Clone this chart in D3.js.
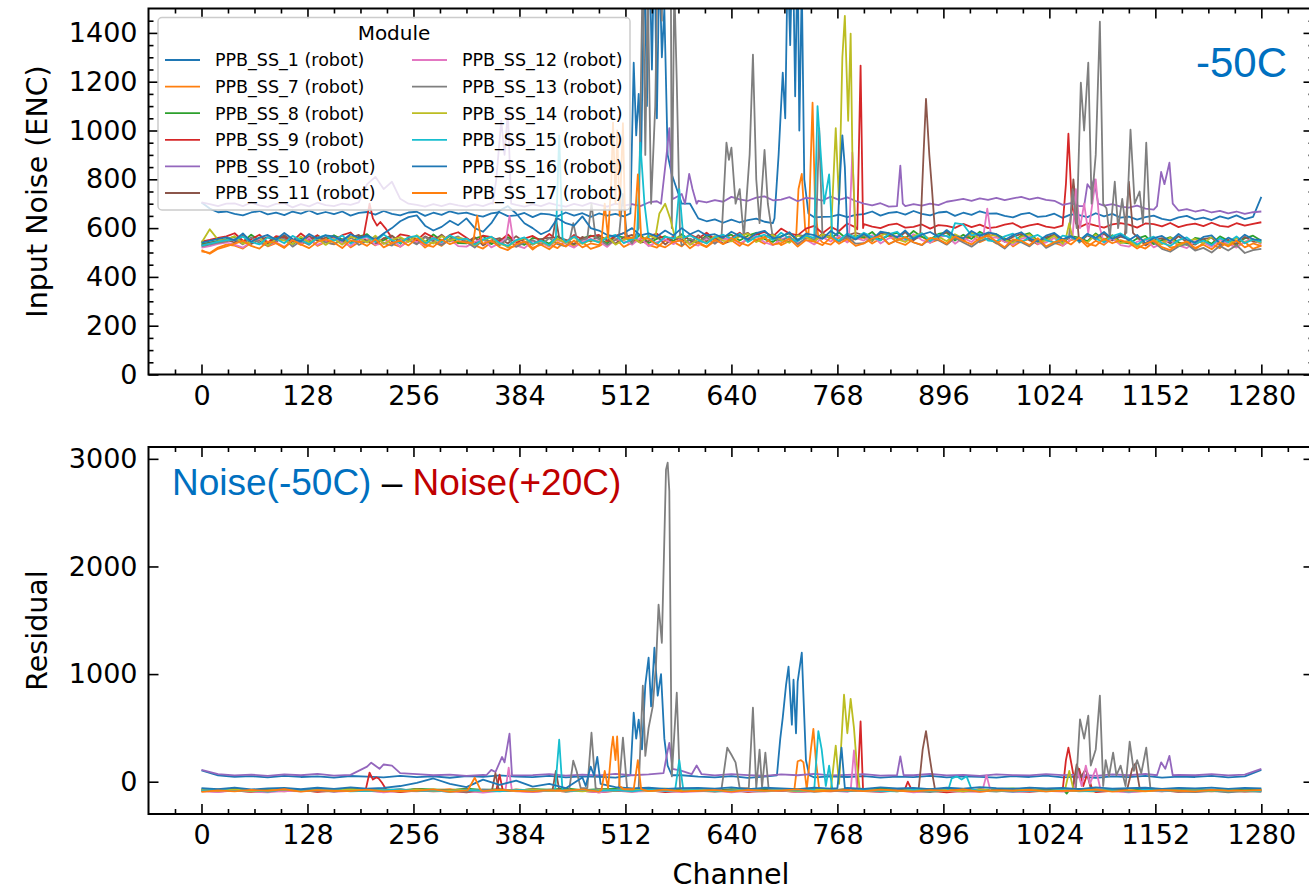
<!DOCTYPE html>
<html>
<head>
<meta charset="utf-8">
<script src="https://cdn.jsdelivr.net/npm/d3@7"></script>
<style>
  body { margin: 0; background: #fff; }
  svg { display: block; }
</style>
</head>
<body>
<svg id="chart" width="1309" height="890"></svg>
<script>
// ---- data -------------------------------------------------------------
// Noise is sampled every 10 channels, residuals every 20 channels;
// narrow features are listed separately as [channel, value] points.
const noiseChannels = d3.range(0, 1281, 10);
const residChannels = d3.range(0, 1281, 20);

const modules = ["PPB_SS_1 (robot)", "PPB_SS_7 (robot)", "PPB_SS_8 (robot)", "PPB_SS_9 (robot)",
  "PPB_SS_10 (robot)", "PPB_SS_11 (robot)", "PPB_SS_12 (robot)", "PPB_SS_13 (robot)",
  "PPB_SS_14 (robot)", "PPB_SS_15 (robot)", "PPB_SS_16 (robot)", "PPB_SS_17 (robot)"];
const palette = ["#1f77b4", "#ff7f0e", "#2ca02c", "#d62728", "#9467bd", "#8c564b",
  "#e377c2", "#7f7f7f", "#bcbd22", "#17becf", "#1f77b4", "#ff7f0e"];

const xTickValues = d3.range(0, 1281, 128);
const xMinorTickValues = d3.range(-32, 1313, 32).filter(v => v % 128 !== 0);
const noiseTickValues = d3.range(0, 1401, 200);
const noiseMinorTickValues = d3.range(50, 1451, 50).filter(v => v % 200 !== 0);
const residTickValues = [0, 1000, 2000, 3000];

// Input noise at -50C (ENC), one row per 160 channels
const noise_SS1 = [
  705, 680, 665, 668, 658, 652, 664, 670, 656, 663, 653, 668, 659, 672, 657, 666,
  657, 668, 651, 662, 666, 655, 670, 658, 652, 664, 667, 650, 663, 654, 669, 659,
  663, 653, 647, 660, 665, 649, 652, 662, 645, 659, 656, 648, 664, 651, 661, 646,
  660, 651, 658, 648, 655, 655, 655, 655, 655, 655, 655, 700, 640, 628, 636, 622,
  635, 623, 633, 639, 626, 620, 630, 640, 640, 640, 644, 646, 647, 655, 645, 654,
  657, 668, 651, 662, 666, 655, 670, 658, 652, 664, 667, 650, 663, 654, 669, 659,
  660, 650, 644, 657, 662, 646, 649, 659, 642, 656, 653, 645, 661, 648, 658, 643,
  647, 635, 645, 651, 638, 632, 644, 650, 636, 643, 633, 648, 639, 652, 637, 646,
  728];
const noise_SS7 = [
  505, 498, 520, 532, 528, 516, 540, 551, 525, 538, 519, 548, 531, 555, 527, 543,
  533, 555, 521, 542, 551, 529, 559, 535, 524, 547, 553, 520, 544, 527, 556, 537,
  547, 529, 516, 541, 551, 520, 526, 545, 512, 539, 533, 518, 550, 524, 543, 515,
  526, 546, 557, 523, 540, 552, 531, 520, 549, 543, 525, 555, 537, 522, 547, 558,
  550, 527, 559, 553, 536, 564, 530, 547, 558, 538, 566, 541, 532, 562, 543, 556,
  561, 537, 557, 569, 543, 531, 555, 566, 540, 553, 534, 563, 546, 570, 542, 558,
  537, 559, 525, 546, 555, 533, 563, 539, 528, 551, 557, 524, 548, 531, 560, 541,
  547, 529, 516, 541, 551, 520, 526, 545, 512, 539, 533, 518, 550, 524, 543, 515,
  528];
const noise_SS8 = [
  535, 540, 548, 555, 565, 543, 573, 549, 538, 561, 567, 534, 558, 541, 570, 551,
  571, 553, 540, 565, 575, 544, 550, 569, 536, 563, 557, 542, 574, 548, 567, 539,
  537, 557, 568, 534, 551, 563, 542, 531, 560, 554, 536, 566, 548, 533, 558, 569,
  559, 536, 568, 562, 545, 573, 539, 556, 567, 547, 575, 550, 541, 571, 552, 565,
  573, 549, 569, 581, 555, 543, 567, 578, 552, 565, 546, 575, 558, 582, 554, 570,
  562, 584, 550, 571, 580, 558, 588, 564, 553, 576, 582, 549, 573, 556, 585, 566,
  575, 557, 544, 569, 579, 548, 554, 573, 540, 567, 561, 546, 578, 552, 571, 543,
  537, 557, 568, 534, 551, 563, 542, 531, 560, 554, 536, 566, 548, 533, 558, 569,
  548];
const noise_SS9 = [
  545, 552, 560, 566, 579, 548, 554, 573, 540, 567, 561, 546, 578, 552, 571, 543,
  551, 571, 582, 548, 565, 577, 556, 545, 574, 568, 550, 580, 562, 547, 572, 583,
  560, 537, 569, 563, 546, 574, 540, 557, 568, 548, 576, 551, 542, 572, 553, 566,
  572, 548, 568, 580, 554, 542, 566, 577, 551, 564, 545, 574, 557, 581, 553, 569,
  559, 581, 550, 573, 584, 565, 598, 578, 570, 598, 609, 579, 605, 588, 619, 603,
  616, 606, 600, 613, 618, 602, 605, 615, 598, 612, 609, 601, 617, 604, 614, 600,
  604, 614, 620, 602, 611, 617, 606, 601, 616, 613, 603, 619, 610, 602, 615, 620,
  614, 602, 619, 616, 607, 621, 604, 613, 618, 608, 622, 609, 605, 620, 610, 617,
  624];
const noise_SS10 = [
  705, 698, 690, 700, 701, 690, 705, 693, 687, 699, 702, 685, 698, 689, 704, 694,
  690, 700, 695, 705, 780, 810, 760, 790, 720, 700, 695, 688, 698, 690, 700, 693,
  688, 697, 690, 702, 690, 690, 695, 688, 697, 690, 702, 694, 688, 699, 691, 703,
  695, 688, 700, 692, 698, 690, 705, 710, 700, 720, 740, 700, 712, 705, 715, 708,
  728, 718, 712, 725, 730, 714, 717, 727, 710, 724, 721, 713, 729, 716, 726, 711,
  700, 693, 702, 688, 695, 690, 698, 692, 700, 694, 708, 714, 720, 712, 722, 716,
  724, 715, 722, 728, 718, 725, 716, 712, 695, 702, 690, 700, 700, 692, 698, 688,
  684, 692, 680, 676, 680, 680, 672, 678, 668, 675, 664, 671, 660, 668, 658, 665,
  668];
const noise_SS11 = [
  530, 538, 546, 552, 541, 569, 535, 552, 563, 543, 571, 546, 537, 567, 548, 561,
  564, 540, 560, 572, 546, 534, 558, 569, 543, 556, 537, 566, 549, 573, 545, 561,
  541, 563, 529, 550, 559, 537, 567, 543, 532, 555, 561, 528, 552, 535, 564, 545,
  568, 550, 537, 562, 572, 541, 547, 566, 533, 560, 554, 539, 571, 545, 564, 536,
  549, 569, 580, 546, 563, 575, 554, 543, 572, 566, 548, 578, 560, 545, 570, 581,
  570, 547, 579, 573, 556, 584, 550, 567, 578, 558, 586, 561, 552, 582, 563, 576,
  568, 544, 564, 576, 550, 538, 562, 573, 547, 560, 541, 570, 553, 577, 549, 565,
  541, 563, 529, 550, 559, 537, 567, 543, 532, 555, 561, 528, 552, 535, 564, 545,
  542];
const noise_SS12 = [
  520, 526, 535, 541, 532, 520, 544, 555, 529, 542, 523, 552, 535, 559, 531, 547,
  558, 540, 527, 552, 562, 531, 537, 556, 523, 550, 544, 529, 561, 535, 554, 526,
  524, 544, 555, 521, 538, 550, 529, 518, 547, 541, 523, 553, 535, 520, 545, 556,
  546, 523, 555, 549, 532, 560, 526, 543, 554, 534, 562, 537, 528, 558, 539, 552,
  560, 536, 556, 568, 542, 530, 554, 565, 539, 552, 533, 562, 545, 569, 541, 557,
  549, 571, 537, 558, 567, 545, 575, 551, 540, 563, 569, 536, 560, 543, 572, 553,
  562, 544, 531, 556, 566, 535, 541, 560, 527, 554, 548, 533, 565, 539, 558, 530,
  524, 544, 555, 521, 538, 550, 529, 518, 547, 541, 523, 553, 535, 520, 545, 556,
  533];
const noise_SS13 = [
  525, 532, 540, 546, 555, 533, 563, 539, 528, 551, 557, 524, 548, 531, 560, 541,
  534, 554, 565, 531, 548, 560, 539, 528, 557, 551, 533, 563, 545, 530, 555, 566,
  543, 520, 552, 546, 529, 557, 523, 540, 551, 531, 559, 534, 525, 555, 536, 549,
  555, 531, 551, 563, 537, 525, 549, 560, 534, 547, 528, 557, 540, 564, 536, 552,
  568, 550, 537, 562, 572, 541, 547, 566, 533, 560, 554, 539, 571, 545, 564, 536,
  538, 558, 569, 535, 550, 562, 541, 530, 557, 550, 532, 560, 541, 524, 548, 558,
  539, 516, 548, 542, 525, 553, 519, 536, 547, 527, 555, 530, 521, 551, 532, 545,
  535, 511, 531, 543, 515, 503, 525, 535, 508, 519, 500, 527, 508, 530, 498, 510,
  515];
const noise_SS14 = [
  540, 595, 552, 550, 567, 536, 542, 561, 528, 555, 549, 534, 566, 540, 559, 531,
  555, 532, 564, 558, 541, 569, 535, 552, 563, 543, 571, 546, 537, 567, 548, 561,
  554, 530, 550, 562, 536, 524, 548, 559, 533, 546, 527, 556, 539, 563, 535, 551,
  544, 566, 532, 553, 562, 540, 570, 546, 535, 558, 564, 531, 555, 538, 567, 548,
  546, 566, 577, 543, 560, 572, 551, 540, 569, 563, 545, 575, 557, 542, 567, 578,
  573, 549, 569, 581, 555, 543, 567, 578, 552, 565, 546, 575, 558, 582, 554, 570,
  570, 552, 539, 564, 574, 543, 549, 568, 535, 562, 556, 541, 573, 547, 566, 538,
  548, 525, 557, 551, 534, 562, 528, 545, 556, 536, 564, 539, 530, 560, 541, 554,
  538];
const noise_SS15 = [
  528, 536, 545, 551, 553, 565, 544, 533, 562, 556, 538, 568, 550, 535, 560, 571,
  548, 570, 536, 557, 566, 544, 574, 550, 539, 562, 568, 535, 559, 542, 571, 552,
  557, 533, 553, 565, 539, 527, 551, 562, 536, 549, 530, 559, 542, 566, 538, 554,
  541, 561, 572, 538, 555, 567, 546, 535, 564, 558, 540, 570, 552, 537, 562, 573,
  555, 577, 543, 564, 573, 551, 581, 557, 546, 569, 575, 542, 566, 549, 578, 559,
  581, 563, 550, 575, 585, 554, 560, 579, 546, 573, 567, 552, 584, 558, 577, 549,
  546, 566, 577, 543, 560, 572, 551, 540, 569, 563, 545, 575, 557, 542, 567, 578,
  557, 533, 553, 565, 539, 527, 551, 562, 536, 549, 530, 559, 542, 566, 538, 554,
  543];
const noise_SS16 = [
  540, 548, 556, 562, 550, 578, 544, 561, 572, 552, 580, 555, 546, 576, 557, 570,
  566, 548, 575, 560, 570, 552, 578, 600, 628, 645, 652, 610, 590, 605, 630, 612,
  640, 600, 585, 620, 672, 690, 660, 620, 600, 575, 590, 640, 620, 610, 648, 600,
  590, 572, 565, 580, 600, 570, 578, 566, 590, 570, 600, 575, 590, 570, 575, 560,
  585, 567, 554, 579, 589, 558, 564, 583, 550, 577, 571, 556, 588, 562, 581, 553,
  576, 553, 585, 579, 562, 590, 556, 573, 584, 564, 592, 567, 558, 588, 569, 582,
  575, 551, 571, 583, 557, 545, 569, 580, 554, 567, 548, 577, 560, 584, 556, 572,
  550, 572, 538, 559, 568, 546, 576, 552, 541, 564, 570, 537, 561, 544, 573, 554,
  552];
const noise_SS17 = [
  510, 495, 515, 525, 536, 548, 527, 516, 545, 539, 521, 551, 533, 518, 543, 554,
  541, 518, 550, 544, 527, 555, 521, 538, 549, 529, 557, 532, 523, 553, 534, 547,
  540, 516, 536, 548, 522, 510, 534, 545, 519, 532, 513, 542, 525, 549, 521, 537,
  530, 552, 518, 539, 548, 526, 556, 532, 521, 544, 550, 517, 541, 524, 553, 534,
  559, 541, 528, 553, 563, 532, 538, 557, 524, 551, 545, 530, 562, 536, 555, 527,
  537, 557, 568, 534, 551, 563, 542, 531, 560, 554, 536, 566, 548, 533, 558, 569,
  545, 522, 554, 548, 531, 559, 525, 542, 553, 533, 561, 536, 527, 557, 538, 551,
  540, 516, 536, 548, 522, 510, 534, 545, 519, 532, 513, 542, 525, 549, 521, 537,
  526];

const noisePeaks_SS1 = [[518, 660], [522, 1278], [525, 980], [528, 1150], [531, 900], [535, 1700],
  [538, 1100], [541, 1750], [544, 1250], [547, 1800], [550, 1050], [553, 1700], [556, 1300],
  [559, 1500], [563, 900], [568, 820], [574, 760], [580, 700],
  [692, 640], [697, 900], [702, 1237], [705, 1050], [708, 1700], [711, 1350], [714, 1800],
  [717, 1140], [720, 1750], [722, 1000], [725, 1600], [728, 800], [733, 660]];
const noisePeaks_SS7 = [[718, 550], [721, 760], [725, 822], [729, 600], [733, 560], [736, 900],
  [738, 1114], [741, 700], [745, 560]];
const noisePeaks_SS8 = [];
const noisePeaks_SS9 = [[196, 570], [203, 700], [207, 640], [212, 610], [216, 625], [222, 600],
  [228, 570], [792, 595], [796, 1266], [799, 600],
  [1040, 610], [1044, 780], [1047, 987], [1051, 700], [1056, 620]];
const noisePeaks_SS10 = [[352, 700], [356, 800], [362, 1040], [366, 900], [370, 1080], [374, 700],
  [555, 700], [561, 880], [565, 1010], [569, 720], [584, 700], [589, 822], [593, 760], [598, 700],
  [840, 690], [844, 856], [847, 700],
  [1066, 690], [1070, 780], [1074, 760], [1078, 800], [1083, 700],
  [1154, 690], [1159, 830], [1163, 780], [1169, 868], [1173, 700]];
const noisePeaks_SS11 = [[424, 560], [428, 640], [432, 560],
  [868, 570], [872, 900], [875, 1130], [879, 900], [882, 770], [886, 580],
  [1048, 560], [1053, 800], [1058, 620], [1115, 560], [1120, 790], [1125, 580]];
const noisePeaks_SS12 = [[368, 560], [372, 650], [376, 560], [782, 560], [786, 910], [790, 560],
  [944, 560], [949, 680], [954, 560],
  [1052, 560], [1056, 760], [1061, 600], [1066, 700], [1071, 580], [1080, 800], [1085, 600]];
const noisePeaks_SS13 = [[444, 540], [449, 620], [454, 545], [466, 560], [471, 700], [476, 560],
  [504, 560], [509, 740], [514, 560],
  [528, 600], [533, 1700], [536, 900], [539, 1600], [543, 700], [548, 1100], [552, 1900],
  [556, 1450], [560, 2600], [563, 3000], [566, 2400], [568, 600], [571, 1600], [574, 1200], [578, 560],
  [628, 560], [634, 950], [637, 880], [640, 930], [645, 700], [650, 760], [655, 560], [662, 900],
  [666, 1311], [670, 800], [674, 620], [680, 920], [684, 700], [690, 560],
  [742, 560], [746, 1010], [750, 560],
  [1048, 560], [1052, 760], [1057, 600], [1062, 1196], [1066, 1000], [1071, 1278], [1075, 700],
  [1080, 900], [1085, 1446], [1089, 700], [1093, 680], [1097, 560], [1103, 790], [1107, 600],
  [1112, 720], [1117, 580], [1122, 1003], [1127, 700], [1133, 750], [1137, 620], [1141, 950], [1146, 560]];
const noisePeaks_SS14 = [[548, 560], [553, 660], [560, 700], [566, 640], [572, 560],
  [760, 560], [766, 1010], [770, 700], [774, 1300], [777, 1470], [781, 1040], [784, 1397],
  [786, 920], [790, 560], [1044, 560], [1048, 620], [1052, 560]];
const noisePeaks_SS15 = [[428, 560], [432, 980], [436, 560], [526, 560], [530, 950], [535, 700],
  [540, 560], [572, 560], [577, 760], [582, 560],
  [740, 560], [744, 1100], [748, 900], [752, 700], [758, 820], [762, 560],
  [904, 560], [910, 620], [920, 615], [930, 570]];
const noisePeaks_SS16 = [[768, 570], [771, 800], [774, 980], [777, 850], [780, 570]];
const noisePeaks_SS17 = [[328, 540], [333, 650], [338, 545],
  [483, 545], [487, 700], [491, 560], [495, 800], [497, 1032], [500, 700], [502, 1000],
  [505, 650], [509, 1030], [512, 560], [522, 560], [527, 820], [531, 560]];

// Residual: Noise(-50C) - Noise(+20C)
const resid_SS1 = [105, 58, 46, 52, 40, 55, 44, 50, 38, 53,
  47, 40, 55, 43, 50, 37, 52, 45, 58, 48,
  42, 54, 40, 50, 46, 38, 52, 44, 55, 60,
  48, 40, 52, 36, 48, 42, 55, 40, 50, 44,
  52, 38, 47, 42, 55, 40, 50, 45, 38, 52,
  44, 56, 40, 48, 36, 50, 42, 54, 38, 48,
  44, 55, 40, 50, 110];
const resid_SS7 = [-90, -82, -75, -88, -70, -84, -78, -92, -72, -86,
  -80, -94, -74, -86, -78, -70, -90, -76, -88, -72,
  -84, -78, -92, -74, -86, -80, -70, -88, -76, -90,
  -74, -86, -80, -92, -72, -84, -78, -88, -70, -82,
  -88, -76, -90, -72, -84, -78, -92, -74, -86, -80,
  -70, -88, -76, -84, -92, -74, -86, -78, -90, -72,
  -84, -78, -88, -74, -80];
const resid_SS8 = [-70, -78, -64, -80, -72, -66, -82, -70, -76, -62,
  -74, -68, -80, -66, -72, -78, -64, -76, -70, -82,
  -68, -74, -62, -78, -70, -66, -80, -72, -64, -76,
  -70, -82, -68, -74, -64, -78, -72, -66, -80, -70,
  -76, -64, -72, -80, -68, -74, -66, -78, -70, -62,
  -74, -68, -80, -66, -76, -70, -82, -68, -72, -64,
  -70, -76, -66, -74, -68];
const resid_SS9 = [-85, -92, -80, -96, -84, -90, -78, -94, -86, -82,
  -70, -88, -96, -82, -90, -84, -98, -80, -92, -86,
  -94, -82, -90, -86, -100, -84, -92, -80, -96, -88,
  -84, -92, -80, -94, -86, -82, -96, -84, -90, -78,
  -88, -94, -82, -90, -86, -98, -84, -92, -80, -88,
  -94, -82, -90, -86, -96, -84, -92, -88, -80, -94,
  -86, -90, -82, -92, -85];
const resid_SS10 = [110, 70, 58, 66, 54, 68, 60, 72, 56, 64,
  140, 160, 80, 70, 60, 66, 55, 64, 180, 58,
  62, 70, 56, 66, 58, 72, 60, 68, 57, 100,
  66, 58, 70, 62, 55, 68, 60, 72, 58, 64,
  70, 56, 66, 60, 72, 58, 64, 55, 68, 62,
  58, 70, 62, 66, 54, 68, 60, 72, 56, 64,
  60, 70, 58, 66, 120];
const resid_SS11 = [-76, -84, -70, -88, -78, -72, -86, -74, -82, -68,
  -80, -74, -88, -70, -84, -78, -72, -86, -76, -82,
  -70, -84, -78, -88, -74, -80, -68, -86, -76, -82,
  -72, -86, -78, -70, -84, -76, -88, -74, -80, -68,
  -82, -76, -86, -72, -80, -74, -88, -70, -84, -78,
  -72, -86, -76, -82, -70, -84, -78, -88, -74, -80,
  -76, -84, -72, -86, -78];
const resid_SS12 = [-88, -96, -80, -92, -100, -84, -90, -78, -94, -86,
  -82, -98, -86, -90, -80, -94, -88, -102, -84, -90,
  -96, -82, -90, -86, -98, -80, -92, -88, -84, -96,
  -90, -84, -100, -86, -92, -80, -96, -88, -82, -94,
  -86, -92, -80, -98, -88, -84, -94, -90, -82, -96,
  -88, -84, -92, -80, -96, -88, -100, -86, -90, -82,
  -94, -86, -92, -84, -90];
const resid_SS13 = [-80, -72, -86, -76, -90, -70, -84, -78, -92, -74,
  -86, -80, -70, -88, -76, -82, -94, -72, -84, -78,
  -90, -74, -82, -88, -70, -86, -76, -92, -80, -74,
  -84, -78, -90, -72, -86, -80, -76, -94, -82, -88,
  -74, -90, -80, -86, -96, -78, -88, -82, -92, -76,
  -84, -90, -78, -86, -80, -94, -82, -88, -76, -92,
  -96, -84, -100, -88, -94];
const resid_SS14 = [-78, -86, -72, -90, -80, -74, -88, -76, -84, -70,
  -82, -76, -90, -72, -86, -80, -74, -88, -78, -84,
  -72, -86, -80, -90, -76, -82, -70, -88, -78, -84,
  -74, -88, -80, -72, -86, -78, -90, -76, -82, -70,
  -84, -78, -88, -74, -82, -76, -90, -72, -86, -80,
  -74, -88, -78, -84, -72, -86, -80, -90, -76, -82,
  -78, -86, -74, -88, -80];
const resid_SS15 = [-82, -74, -88, -78, -92, -72, -86, -80, -76, -90,
  -84, -78, -72, -88, -80, -94, -76, -84, -90, -74,
  -86, -80, -92, -76, -84, -78, -90, -72, -86, -82,
  -76, -90, -84, -78, -88, -74, -82, -92, -80, -86,
  -78, -84, -90, -76, -86, -80, -74, -88, -82, -92,
  -80, -86, -76, -90, -84, -78, -92, -74, -86, -80,
  -84, -78, -90, -82, -86];
const resid_SS16 = [-60, -68, -54, -72, -62, -58, -70, -56, -66, -52,
  -64, -58, -40, -10, 30, -20, -50, 20, -30, 10,
  -45, -20, -60, 40, -10, -50, -62, -56, -66, -60,
  -58, -64, -52, -68, -56, -62, -70, -54, -64, -58,
  -66, -52, -62, -58, -68, -56, -64, -50, -60, -66,
  -54, -62, -58, -68, -52, -64, -60, -56, -66, -58,
  -62, -54, -66, -58, -62];
const resid_SS17 = [-95, -80, -90, -76, -86, -70, -92, -78, -84, -88,
  -74, -90, -82, -86, -72, -94, -80, -88, -76, -84,
  -90, -78, -86, -72, -92, -82, -80, -88, -74, -90,
  -84, -78, -92, -76, -86, -80, -72, -90, -84, -78,
  -88, -74, -84, -90, -78, -86, -72, -92, -80, -84,
  -76, -90, -82, -86, -74, -92, -80, -88, -78, -84,
  -90, -76, -86, -82, -78];

const residPeaks_SS1 = [[518, 60], [522, 641], [525, 400], [528, 576], [532, 300], [536, 900],
  [540, 1152], [543, 700], [547, 1245], [551, 800], [555, 1000], [559, 400], [563, 150], [568, 60],
  [695, 60], [699, 400], [702, 595], [706, 900], [709, 1070], [713, 530], [715, 948], [718, 450],
  [720, 930], [725, 1199], [728, 600], [730, 200], [734, 60]];
const residPeaks_SS7 = [[716, -75], [720, 190], [724, 200], [727, 180], [731, -70], [736, 300],
  [739, 490], [742, 200], [746, -70]];
const residPeaks_SS8 = [[1041, -75], [1045, -110], [1049, -70]];
const residPeaks_SS9 = [[198, -85], [203, 85], [207, 20], [211, 40], [214, 30], [218, -10], [224, -85],
  [356, -85], [360, 65], [364, -85], [792, -80], [796, 560], [799, -80], [849, -80], [853, 0], [858, -80],
  [1040, -80], [1044, 200], [1047, 316], [1051, 150], [1055, -20], [1060, 120], [1065, -40],
  [1070, 80], [1076, -80]];
const residPeaks_SS10 = [[205, 177], [215, 120], [230, 150],
  [344, 60], [350, 110], [355, 90], [363, 230], [366, 180], [372, 446], [375, 60],
  [558, 80], [562, 250], [565, 360], [569, 120], [592, 70], [598, 150], [604, 70],
  [840, 60], [844, 235], [848, 60], [1154, 60], [1159, 180], [1164, 120], [1169, 240], [1173, 60]];
const residPeaks_SS11 = [[351, -75], [355, 80], [359, -75], [424, -75], [428, 100], [432, -75],
  [866, -75], [871, 300], [875, 470], [879, 250], [882, 100], [886, -75],
  [1052, -70], [1057, 160], [1062, 40], [1068, 120], [1074, -60],
  [1118, -70], [1124, 120], [1128, 170], [1133, -60]];
const residPeaks_SS12 = [[367, -85], [371, 130], [375, -85], [784, -85], [788, 290], [792, -85],
  [943, -85], [948, 60], [953, -85],
  [1054, -80], [1058, 100], [1063, -40], [1068, 150], [1073, -20], [1080, 120], [1086, -80]];
const residPeaks_SS13 = [[444, -80], [449, 195], [453, 100], [458, -60], [466, -60], [471, 455], [476, -60],
  [504, -70], [509, 409], [514, -60],
  [528, -60], [533, 892], [536, 240], [540, 500], [545, 700], [549, 1100], [552, 1645], [556, 1290],
  [561, 2900], [563, 2965], [565, 2700], [568, 50], [574, 827], [578, -60],
  [628, -70], [635, 316], [640, 250], [645, 180], [650, -60], [661, -60], [666, 688], [670, -60],
  [674, 298], [677, -50], [681, 270], [685, -70],
  [1056, -70], [1061, 580], [1066, 400], [1071, 613], [1074, 150], [1080, 300], [1085, 800],
  [1089, -40], [1092, 200], [1096, 50], [1101, 270], [1105, 60], [1110, 150], [1116, -40],
  [1121, 372], [1126, 100], [1130, 200], [1135, 80], [1141, 316], [1146, -60]];
const residPeaks_SS14 = [[760, -75], [766, 335], [770, -20], [773, 400], [776, 808], [780, 450],
  [784, 770], [788, 500], [791, 200], [795, -75], [1043, -70], [1048, 100], [1053, -70]];
const residPeaks_SS15 = [[427, -80], [432, 390], [436, -80], [572, -80], [577, 200], [582, -80],
  [740, -75], [745, 470], [749, 300], [754, -40], [758, 150], [762, -75],
  [902, -75], [906, 30], [912, 50], [918, 20], [924, 50], [930, -70]];
const residPeaks_SS16 = [[464, -40], [470, 140], [474, 60], [478, 230], [482, -20],
  [768, -60], [773, 316], [777, -60]];
const residPeaks_SS17 = [[322, -75], [330, 37], [337, -75],
  [483, -75], [487, 100], [491, -60], [495, 300], [497, 418], [500, 200], [502, 420], [505, -40], [510, -70],
  [522, -70], [527, 200], [531, -70]];

const noiseBase = [noise_SS1, noise_SS7, noise_SS8, noise_SS9, noise_SS10, noise_SS11,
  noise_SS12, noise_SS13, noise_SS14, noise_SS15, noise_SS16, noise_SS17];
const noisePeaks = [noisePeaks_SS1, noisePeaks_SS7, noisePeaks_SS8, noisePeaks_SS9, noisePeaks_SS10,
  noisePeaks_SS11, noisePeaks_SS12, noisePeaks_SS13, noisePeaks_SS14, noisePeaks_SS15,
  noisePeaks_SS16, noisePeaks_SS17];
const residBase = [resid_SS1, resid_SS7, resid_SS8, resid_SS9, resid_SS10, resid_SS11,
  resid_SS12, resid_SS13, resid_SS14, resid_SS15, resid_SS16, resid_SS17];
const residPeaks = [residPeaks_SS1, residPeaks_SS7, residPeaks_SS8, residPeaks_SS9, residPeaks_SS10,
  residPeaks_SS11, residPeaks_SS12, residPeaks_SS13, residPeaks_SS14, residPeaks_SS15,
  residPeaks_SS16, residPeaks_SS17];

// Merge the sampled grid with the listed peak points; grid samples that
// fall inside a run of peak points are replaced by that run.
function buildSeries(grid, base, peaks) {
  const pts = peaks.slice().sort((a, b) => a[0] - b[0]);
  const runs = [];
  pts.forEach(p => {
    const r = runs[runs.length - 1];
    if (r && p[0] - r[1] <= 12) r[1] = p[0]; else runs.push([p[0], p[0]]);
  });
  const sampled = grid.map((c, i) => [c, base[i]])
    .filter(([c, v]) => v != null && !runs.some(([a, b]) => c >= a && c <= b));
  return sampled.concat(pts).sort((a, b) => a[0] - b[0]);
}

// ---- layout -----------------------------------------------------------
const svg = d3.select("#chart");
const plotL = 148.5, plotR = 1313.5;
const x = d3.scaleLinear().domain([-64, 1343]).range([plotL, plotR]);

const panels = [
  { top: 8.5, bottom: 374.5, domain: [0, 1500], major: noiseTickValues, minor: noiseMinorTickValues,
    label: "Input Noise (ENC)", grid: noiseChannels, base: noiseBase, peaks: noisePeaks, id: "clipNoise" },
  { top: 447, bottom: 814, domain: [-300, 3110], major: residTickValues, minor: [],
    label: "Residual", grid: residChannels, base: residBase, peaks: residPeaks, id: "clipResid" }
];

const tickFont = "DejaVu Sans, sans-serif";

panels.forEach(p => {
  const y = d3.scaleLinear().domain(p.domain).range([p.bottom, p.top]);
  const g = svg.append("g");

  g.append("clipPath").attr("id", p.id)
    .append("rect").attr("x", plotL).attr("y", p.top)
    .attr("width", plotR - plotL).attr("height", p.bottom - p.top);

  const line = d3.line().x(d => x(d[0])).y(d => y(d[1]));
  const lines = g.append("g").attr("clip-path", `url(#${p.id})`);
  p.base.forEach((b, i) => {
    lines.append("path")
      .attr("d", line(buildSeries(p.grid, b, p.peaks[i])))
      .attr("fill", "none")
      .attr("stroke", palette[i])
      .attr("stroke-width", 1.8)
      .attr("stroke-linejoin", "round");
  });

  // ticks on all four sides, pointing inward
  const axes = [
    { ax: d3.axisBottom(x).tickValues(xTickValues).tickSize(-10).tickPadding(11).tickFormat(d3.format("d")), t: `translate(0,${p.bottom})` },
    { ax: d3.axisBottom(x).tickValues(xMinorTickValues).tickSize(-5).tickFormat(""), t: `translate(0,${p.bottom})` },
    { ax: d3.axisTop(x).tickValues(xTickValues).tickSize(-10).tickFormat(""), t: `translate(0,${p.top})` },
    { ax: d3.axisTop(x).tickValues(xMinorTickValues).tickSize(-5).tickFormat(""), t: `translate(0,${p.top})` },
    { ax: d3.axisLeft(y).tickValues(p.major).tickSize(-10).tickPadding(11).tickFormat(d3.format("d")), t: `translate(${plotL},0)` },
    { ax: d3.axisLeft(y).tickValues(p.minor).tickSize(-5).tickFormat(""), t: `translate(${plotL},0)` },
    { ax: d3.axisRight(y).tickValues(p.major).tickSize(-10).tickFormat(""), t: `translate(${plotR},0)` },
    { ax: d3.axisRight(y).tickValues(p.minor).tickSize(-5).tickFormat(""), t: `translate(${plotR},0)` }
  ];
  axes.forEach(a => {
    const ag = g.append("g").attr("transform", a.t).call(a.ax);
    ag.select(".domain").remove();
    ag.selectAll(".tick line").attr("stroke", "#000").attr("stroke-width", 1.6);
    ag.selectAll(".tick text").attr("fill", "#000")
      .style("font-family", tickFont).style("font-size", "27px");
  });

  g.append("rect").attr("x", plotL).attr("y", p.top)
    .attr("width", plotR - plotL).attr("height", p.bottom - p.top)
    .attr("fill", "none").attr("stroke", "#000").attr("stroke-width", 2);

  g.append("text")
    .attr("transform", `translate(47,${(p.top + p.bottom) / 2}) rotate(-90)`)
    .attr("text-anchor", "middle")
    .style("font-family", tickFont).style("font-size", "28.5px")
    .text(p.label);
});

svg.append("text").attr("x", (plotL + plotR) / 2).attr("y", 884)
  .attr("text-anchor", "middle")
  .style("font-family", tickFont).style("font-size", "28.5px")
  .text("Channel");

// ---- legend -----------------------------------------------------------
const legend = svg.append("g");
legend.append("rect").attr("x", 158).attr("y", 17.5).attr("width", 472).attr("height", 192.5)
  .attr("rx", 4).attr("fill", "#fff").attr("fill-opacity", 0.8)
  .attr("stroke", "#cccccc").attr("stroke-width", 1.5);
legend.append("text").attr("x", 394).attr("y", 39.5).attr("text-anchor", "middle")
  .style("font-family", tickFont).style("font-size", "20px").text("Module");
modules.forEach((m, i) => {
  const col = Math.floor(i / 6), row = i % 6;
  const cy = 60 + row * 26.6;
  const lx = col === 0 ? 165 : 412;
  legend.append("line").attr("x1", lx).attr("x2", lx + 35).attr("y1", cy).attr("y2", cy)
    .attr("stroke", palette[i]).attr("stroke-width", 1.8);
  legend.append("text").attr("x", lx + 50).attr("y", cy + 6.4)
    .style("font-family", tickFont).style("font-size", "17.5px").text(m);
});

// ---- annotations ------------------------------------------------------
svg.append("text").attr("x", 1287).attr("y", 77).attr("text-anchor", "end")
  .style("font-family", "Liberation Sans, Arial, sans-serif").style("font-size", "42px")
  .attr("fill", "#0070c0").text("-50C");

const diff = svg.append("text").attr("x", 172).attr("y", 495)
  .style("font-family", "Liberation Sans, Arial, sans-serif").style("font-size", "37px");
diff.append("tspan").attr("fill", "#0070c0").text("Noise(-50C)");
diff.append("tspan").attr("fill", "#000").text(" \u2013 ");
diff.append("tspan").attr("fill", "#c00000").text("Noise(+20C)");
</script>
</body>
</html>
